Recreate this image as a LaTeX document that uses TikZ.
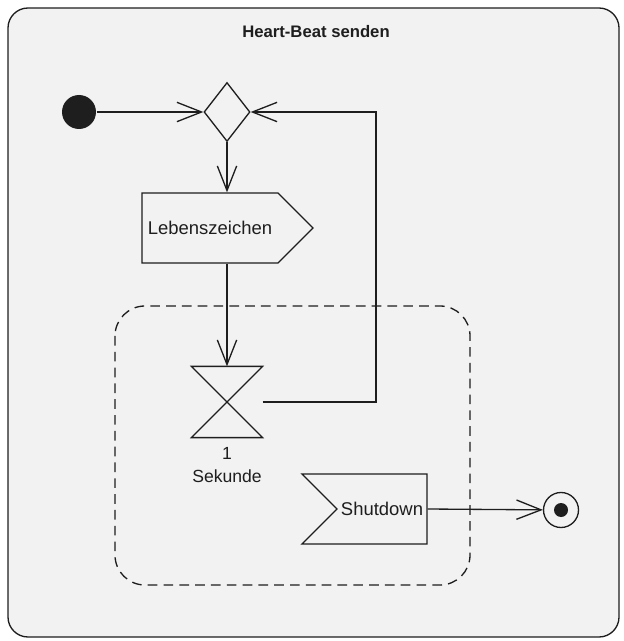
\documentclass[tikz,border=0pt]{standalone}
\usepackage{fontspec}
\setmainfont{Liberation Sans}
\usetikzlibrary{arrows.meta,positioning,shapes.geometric,shapes.symbols}
\definecolor{Panel}{HTML}{F2F2F2}
\definecolor{Ink}{HTML}{1E1E1E}

\begin{document}
\begin{tikzpicture}[x=0.02cm,y=-0.02cm,line width=0.75pt,draw=Ink,
    snd/.style={draw,signal,signal to=east,minimum height=1.4cm,inner xsep=0.12cm,font=\fontsize{10.5}{12}\selectfont},
    rcv/.style={draw,signal,signal from=west,signal to=nowhere,minimum height=1.4cm,inner xsep=0.08cm,font=\fontsize{10.5}{12}\selectfont},
    fin/.style={circle,draw,minimum size=0.7cm,inner sep=0pt,path picture={\fill[Ink] (path picture bounding box.center) circle (0.14cm);}},
    a/.style={-{Straight Barb[length=14pt,width=11pt]}},
    lab/.style={font=\fontsize{10}{13}\selectfont,align=center,text=Ink}]
    \useasboundingbox (0,0) rectangle (623,641);
    \draw[fill=Panel,rounded corners=0.4cm] (8,8) rectangle (619,637);
    \node[font=\bfseries\fontsize{9.5}{11}\selectfont,text=Ink] (ttl) at (316,32) {Heart-Beat senden};
    % region that is left on Shutdown
    \draw[dash pattern=on 5.5pt off 3.5pt,rounded corners=0.6cm] (115,306) rectangle (470,585);
    \node[circle,fill=Ink,minimum size=0.68cm,inner sep=0pt] (ini) at (79,112) {};
    \node[diamond,draw,minimum width=0.92cm,minimum height=1.18cm,inner sep=0pt] (dec) at (227,112) {};
    \node[snd,text=Ink] (sig) at (210,228) {Lebenszeichen};
    \node[minimum width=1.4cm,minimum height=1.4cm,inner sep=0pt] (tim) at (227,402) {};
    \draw (tim.north west) -- (tim.north east) -- (tim.south west) -- (tim.south east) -- cycle;
    \node[lab] (dur) at (227,465) {1\\Sekunde};
    \node[rcv,text=Ink] (shut) at (382,509) {Shutdown};
    \node[fin] (end) at (561,510) {};
    \coordinate (loop) at (376,112);
    \draw[a] (ini) -- (dec.west);
    \draw[a] (dec.south) -- (dec.south |- sig.north);
    \draw[a] (tim.north |- sig.south) -- (tim.north);
    \draw[a] (tim.east) -| (loop) -- (dec.east);
    \draw[a] (shut.east) -- (end);
  \end{tikzpicture}
\end{document}
